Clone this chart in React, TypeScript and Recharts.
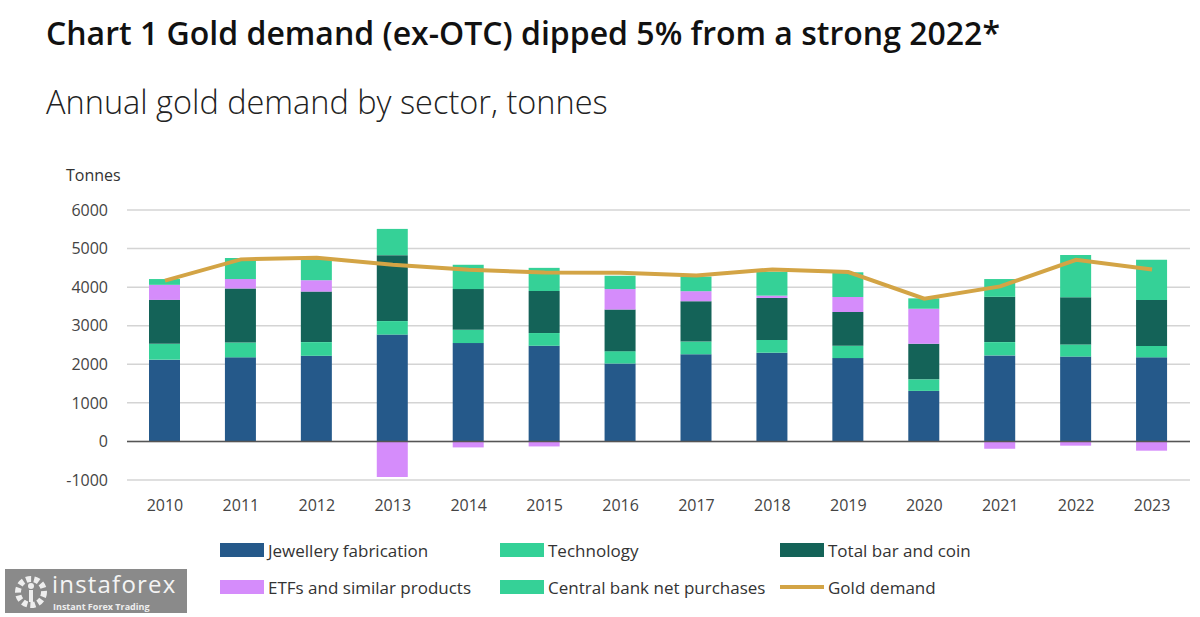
import React from 'react';
import { ComposedChart, Bar, Line, XAxis, YAxis, CartesianGrid, ReferenceLine } from 'recharts';

const years = ['2010', '2011', '2012', '2013', '2014', '2015', '2016', '2017', '2018', '2019', '2020', '2021', '2022', '2023'];
const jewellery = [2120, 2180, 2220, 2770, 2550, 2480, 2020, 2260, 2300, 2160, 1310, 2230, 2200, 2180];
const technology = [410, 385, 355, 350, 345, 330, 320, 330, 330, 320, 300, 345, 315, 295];
const barAndCoin = [1140, 1400, 1310, 1710, 1055, 1090, 1080, 1045, 1090, 875, 925, 1175, 1220, 1190];
const etfs = [390, 245, 295, -920, -155, -130, 530, 260, 60, 390, 905, -190, -110, -240];
const centralBanks = [150, 545, 570, 680, 630, 600, 345, 380, 620, 640, 270, 460, 1100, 1045];
const goldDemand = [4170, 4720, 4760, 4580, 4450, 4380, 4370, 4300, 4460, 4390, 3700, 4020, 4710, 4460];
const yTicks = [-1000, 0, 1000, 2000, 3000, 4000, 5000, 6000];

const COLORS = {
  jewellery: '#25598a',
  technology: '#34d197',
  barAndCoin: '#146358',
  etfs: '#d58cfb',
  centralBanks: '#35d197',
  goldDemand: '#d3a445'
};

const data = years.map((year, i) => ({
  year,
  jewellery: jewellery[i],
  technology: technology[i],
  barAndCoin: barAndCoin[i],
  etfs: etfs[i],
  centralBanks: centralBanks[i],
  goldDemand: goldDemand[i]
}));

const legendRows = [
  [
    { key: 'jewellery', label: 'Jewellery fabrication', type: 'bar' },
    { key: 'technology', label: 'Technology', type: 'bar' },
    { key: 'barAndCoin', label: 'Total bar and coin', type: 'bar' }
  ],
  [
    { key: 'etfs', label: 'ETFs and similar products', type: 'bar' },
    { key: 'centralBanks', label: 'Central bank net purchases', type: 'bar' },
    { key: 'goldDemand', label: 'Gold demand', type: 'line' }
  ]
];
const legendCols = [220, 500, 780];

const font = '"Open Sans", "Noto Sans", sans-serif';

const App: React.FC = () => {
  return (
    <div style={{ position: 'absolute', left: 0, top: 0, width: 1200, height: 617, background: '#fff', fontFamily: font, color: '#222', overflow: 'hidden' }}>
      <div style={{ position: 'absolute', left: 46, top: 11, fontSize: 32, fontWeight: 600, color: '#111', whiteSpace: 'nowrap', lineHeight: 'normal' }}>
        Chart 1 Gold demand (ex-OTC) dipped 5% from a strong 2022*
      </div>
      <div style={{ position: 'absolute', left: 46, top: 79, fontSize: 32.5, fontWeight: 300, color: '#222', whiteSpace: 'nowrap', lineHeight: 'normal' }}>
        Annual gold demand by sector, tonnes
      </div>
      <div style={{ position: 'absolute', left: 66, top: 164, fontSize: 16, color: '#333' }}>Tonnes</div>

      <div style={{ position: 'absolute', left: 0, top: 0 }}>
        <ComposedChart
          width={1200}
          height={530}
          data={data}
          stackOffset="sign"
          margin={{ top: 210, right: 10, bottom: 10, left: 0 }}
          barCategoryGap={0}
        >
          <CartesianGrid vertical={false} stroke="#d4d4d4" strokeWidth={1.5} />
          <XAxis
            dataKey="year"
            axisLine={false}
            tickLine={false}
            tickMargin={14}
            height={40}
            tick={{ fontSize: 16, fill: '#444', fontFamily: font }}
          />
          <YAxis
            width={127}
            domain={[-1000, 6000]}
            ticks={yTicks}
            interval={0}
            axisLine={false}
            tickLine={false}
            tickMargin={13}
            tick={{ fontSize: 16, fill: '#444', fontFamily: font }}
          />
          <Bar dataKey="jewellery" stackId="a" fill={COLORS.jewellery} barSize={31} isAnimationActive={false} />
          <Bar dataKey="technology" stackId="a" fill={COLORS.technology} barSize={31} isAnimationActive={false} />
          <Bar dataKey="barAndCoin" stackId="a" fill={COLORS.barAndCoin} barSize={31} isAnimationActive={false} />
          <Bar dataKey="etfs" stackId="a" fill={COLORS.etfs} barSize={31} isAnimationActive={false} />
          <Bar dataKey="centralBanks" stackId="a" fill={COLORS.centralBanks} barSize={31} isAnimationActive={false} />
          <ReferenceLine y={0} stroke="#555" strokeWidth={1.5} />
          <Line
            dataKey="goldDemand"
            type="linear"
            stroke={COLORS.goldDemand}
            strokeWidth={4}
            dot={false}
            activeDot={false}
            isAnimationActive={false}
          />
        </ComposedChart>
      </div>

      {legendRows.map((row, r) =>
        row.map((item, c) => (
          <div
            key={item.key}
            style={{ position: 'absolute', left: legendCols[c], top: 539 + r * 37, height: 22, display: 'flex', alignItems: 'center', whiteSpace: 'nowrap' }}
          >
            <div
              style={{
                width: 44,
                height: item.type === 'line' ? 4 : 14,
                background: COLORS[item.key as keyof typeof COLORS],
                marginRight: 4
              }}
            />
            <span style={{ fontSize: 17, color: '#333' }}>{item.label}</span>
          </div>
        ))
      )}

      {/* watermark */}
      <div style={{ position: 'absolute', left: 5, top: 569, width: 182, height: 44, background: '#8a8a8a' }}>
        <svg width={40} height={40} style={{ position: 'absolute', left: 6, top: 3 }}>
          <circle cx={20} cy={20} r={13} fill="none" stroke="#eee" strokeWidth={6} strokeDasharray="5 3" />
          <circle cx={20} cy={14} r={3} fill="#eee" />
          <rect x={18} y={18} width={4} height={12} fill="#eee" />
        </svg>
        <div style={{ position: 'absolute', left: 47, top: 3, fontSize: 24, lineHeight: '24px', fontWeight: 400, color: '#f4f4f4', letterSpacing: 1.2 }}>instaforex</div>
        <div style={{ position: 'absolute', left: 48, top: 32, fontSize: 9, lineHeight: '11px', fontWeight: 700, color: '#eee' }}>Instant Forex Trading</div>
      </div>
    </div>
  );
};

export default App;
